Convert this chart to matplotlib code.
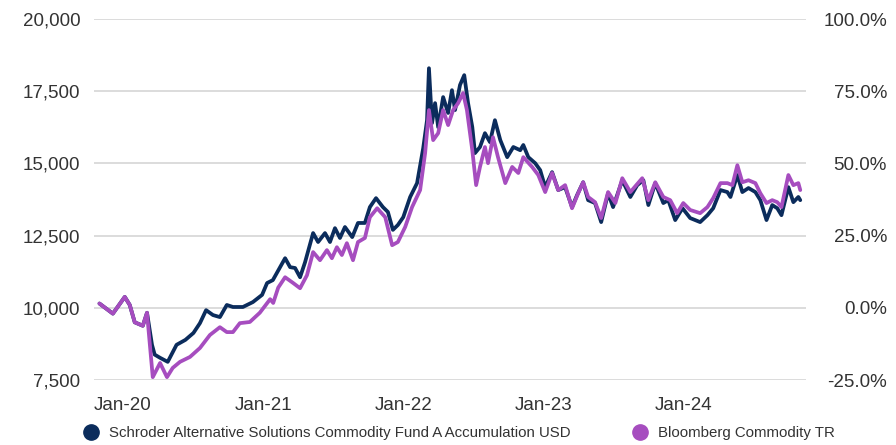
import pandas as pd
import matplotlib
matplotlib.use("Agg")
import matplotlib.pyplot as plt
import matplotlib.dates as mdates
from matplotlib.lines import Line2D
from matplotlib.ticker import FuncFormatter

# growth of 10,000
fund_name = "Schroder Alternative Solutions Commodity Fund A Accumulation USD"
bench_name = "Bloomberg Commodity TR"

fund_dates = [
    "2019-11-01", "2019-12-06", "2020-01-06", "2020-01-19", "2020-02-01", "2020-02-22",
    "2020-03-04", "2020-03-17", "2020-03-24", "2020-04-07", "2020-04-27", "2020-05-20",
    "2020-06-12", "2020-07-03", "2020-07-20", "2020-08-05", "2020-08-23", "2020-09-10",
    "2020-09-28", "2020-10-14", "2020-11-09", "2020-12-05", "2020-12-29", "2021-01-11",
    "2021-01-26", "2021-02-27", "2021-03-12", "2021-03-25", "2021-04-07", "2021-04-20",
    "2021-05-11", "2021-05-24", "2021-06-11", "2021-06-24", "2021-07-07", "2021-07-20",
    "2021-08-02", "2021-08-21", "2021-09-05", "2021-09-23", "2021-10-06", "2021-10-22",
    "2021-11-09", "2021-11-22", "2021-12-05", "2021-12-18", "2022-01-01", "2022-01-19",
    "2022-02-06", "2022-02-22", "2022-03-04", "2022-03-09", "2022-03-17", "2022-03-25",
    "2022-04-02", "2022-04-15", "2022-04-28", "2022-05-08", "2022-05-16", "2022-05-29",
    "2022-06-09", "2022-06-19", "2022-06-30", "2022-07-07", "2022-07-20", "2022-08-02",
    "2022-08-15", "2022-08-28", "2022-09-11", "2022-09-29", "2022-10-15", "2022-11-02",
    "2022-11-10", "2022-11-23", "2022-12-11", "2022-12-24", "2023-01-06", "2023-01-24",
    "2023-02-09", "2023-02-27", "2023-03-17", "2023-03-30", "2023-04-15", "2023-04-28",
    "2023-05-16", "2023-06-01", "2023-06-19", "2023-07-02", "2023-07-26", "2023-08-16",
    "2023-09-03", "2023-09-19", "2023-10-02", "2023-10-20", "2023-11-10", "2023-11-23",
    "2023-12-11", "2023-12-30", "2024-01-19", "2024-02-14", "2024-03-04", "2024-03-19",
    "2024-04-07", "2024-04-25", "2024-05-03", "2024-05-21", "2024-06-03", "2024-06-19",
    "2024-07-07", "2024-07-20", "2024-08-05", "2024-08-20", "2024-09-02", "2024-09-13",
    "2024-10-01", "2024-10-14", "2024-10-27", "2024-11-01",
]
fund_values = [
    10150, 9800, 10380, 10100, 9500, 9380,
    9830, 8720, 8380, 8270, 8130, 8720,
    8890, 9130, 9470, 9920, 9750, 9680,
    10100, 10030, 10030, 10200, 10450, 10860,
    10960, 11720, 11410, 11380, 11060, 11580,
    12590, 12280, 12590, 12280, 12760, 12420,
    12800, 12450, 12940, 12940, 13490, 13800,
    13490, 13320, 12700, 12870, 13140, 13840,
    14320, 15530, 16500, 18300, 16400, 17090,
    16260, 17300, 16750, 17540, 16850, 17720,
    18060, 17090, 16260, 15360, 15570, 16050,
    15740, 16500, 15810, 15220, 15570, 15460,
    15640, 15220, 15010, 14770, 14180, 14700,
    14080, 14180, 13490, 13900, 14350, 13730,
    13630, 12970, 13970, 13490, 14420, 13840,
    14250, 14420, 13560, 14320, 13630, 13730,
    13040, 13450, 13110, 12970, 13210, 13450,
    14080, 14010, 13840, 14600, 14010, 14150,
    14010, 13730, 13040, 13560, 13450, 13210,
    14180, 13660, 13840, 13730,
]

bench_dates = [
    "2019-11-01", "2019-12-06", "2020-01-06", "2020-01-19", "2020-02-01", "2020-02-22",
    "2020-03-04", "2020-03-19", "2020-04-07", "2020-04-25", "2020-05-10", "2020-05-29",
    "2020-06-24", "2020-07-20", "2020-08-15", "2020-09-10", "2020-09-28", "2020-10-14",
    "2020-11-01", "2020-11-27", "2020-12-23", "2021-01-19", "2021-01-27", "2021-02-09",
    "2021-02-27", "2021-03-20", "2021-04-07", "2021-04-25", "2021-05-11", "2021-05-29",
    "2021-06-16", "2021-06-29", "2021-07-12", "2021-07-25", "2021-08-07", "2021-08-23",
    "2021-09-05", "2021-09-23", "2021-10-06", "2021-10-25", "2021-11-15", "2021-12-03",
    "2021-12-18", "2022-01-06", "2022-01-24", "2022-02-14", "2022-02-27", "2022-03-09",
    "2022-03-20", "2022-04-02", "2022-04-15", "2022-04-28", "2022-05-11", "2022-05-24",
    "2022-06-06", "2022-06-16", "2022-06-30", "2022-07-10", "2022-07-20", "2022-08-02",
    "2022-08-10", "2022-08-23", "2022-09-05", "2022-09-24", "2022-10-12", "2022-10-28",
    "2022-11-10", "2022-12-03", "2022-12-19", "2023-01-06", "2023-01-24", "2023-02-09",
    "2023-02-27", "2023-03-17", "2023-04-02", "2023-04-15", "2023-04-28", "2023-05-16",
    "2023-06-01", "2023-06-19", "2023-07-08", "2023-07-26", "2023-08-16", "2023-09-16",
    "2023-10-02", "2023-10-20", "2023-11-10", "2023-11-28", "2023-12-16", "2024-01-01",
    "2024-01-19", "2024-02-14", "2024-03-04", "2024-03-19", "2024-04-07", "2024-04-25",
    "2024-05-08", "2024-05-21", "2024-06-03", "2024-06-19", "2024-07-07", "2024-07-20",
    "2024-08-05", "2024-08-20", "2024-09-02", "2024-09-13", "2024-10-01", "2024-10-14",
    "2024-10-27", "2024-11-01",
]
bench_values = [
    10150, 9800, 10380, 10100, 9500, 9380,
    9830, 7600, 8090, 7600, 7920, 8130,
    8300, 8610, 9060, 9330, 9160, 9160,
    9470, 9510, 9830, 10300, 10170, 10700,
    11060, 10860, 10680, 11130, 11930, 11650,
    12000, 11720, 12100, 11830, 12240, 11650,
    12280, 12420, 13140, 13450, 13140, 12170,
    12280, 12800, 13490, 14080, 15360, 16850,
    15810, 16050, 16850, 16330, 16850, 17090,
    17440, 16850, 15460, 14250, 14880, 15570,
    15010, 15910, 15220, 14320, 14880, 14670,
    15220, 14880, 14600, 14010, 14670, 14080,
    14250, 13450, 13970, 14350, 13840, 13660,
    13110, 14010, 13630, 14490, 14010, 14490,
    13730, 14350, 13840, 13730, 13280, 13630,
    13390, 13280, 13490, 13800, 14320, 14320,
    14250, 14940, 14350, 14420, 14320, 13970,
    13630, 13730, 13660, 13490, 14600, 14250,
    14320, 14080,
]

left_ticks = [7500, 10000, 12500, 15000, 17500, 20000]
right_ticks = [-25, 0, 25, 50, 75, 100]
year_ticks = ["2020-01-01", "2021-01-01", "2022-01-01", "2023-01-01", "2024-01-01"]

navy = "#0b2c5c"
purple = "#a64dbf"
text_col = "#333333"
grid_col = "#d9d9d9"

plt.rcParams["font.family"] = ["Liberation Sans", "DejaVu Sans"]

fig = plt.figure(figsize=(8.96, 4.45), dpi=100)
ax = fig.add_axes([0.105, 0.146, 0.795, 0.811])

ax.plot(pd.to_datetime(fund_dates), fund_values, color=navy, lw=2.7,
        solid_joinstyle="round", solid_capstyle="round")
ax.plot(pd.to_datetime(bench_dates), bench_values, color=purple, lw=2.7,
        solid_joinstyle="round", solid_capstyle="round")

ax.set_ylim(7500, 20000)
ax.set_yticks(left_ticks)
ax.yaxis.set_major_formatter(FuncFormatter(lambda v, p: f"{v:,.0f}"))
ax.set_xlim(pd.Timestamp("2019-10-18"), pd.Timestamp("2024-11-17"))
ax.set_xticks(pd.to_datetime(year_ticks))
ax.xaxis.set_major_formatter(mdates.DateFormatter("%b-%y"))

ax.grid(axis="y", color=grid_col, lw=1.3)
ax.set_axisbelow(True)
for s in ax.spines.values():
    s.set_visible(False)
ax.tick_params(axis="both", length=0, labelsize=13.5, labelcolor=text_col)
ax.tick_params(axis="y", pad=10)
ax.tick_params(axis="x", pad=12)

# right axis shows cumulative return in %
ax2 = ax.twinx()
ax2.set_ylim(-25, 100)
ax2.set_yticks(right_ticks)
ax2.yaxis.set_major_formatter(FuncFormatter(lambda v, p: f"{v:.1f}%"))
for s in ax2.spines.values():
    s.set_visible(False)
ax2.tick_params(axis="y", length=0, labelsize=13.5, labelcolor=text_col, pad=58)
for lbl in ax2.get_yticklabels():
    lbl.set_horizontalalignment("right")

handles = [
    Line2D([], [], ls="none", marker="o", ms=11, color=navy),
    Line2D([], [], ls="none", marker="o", ms=11, color=purple),
]
fig.legend(handles, [fund_name, bench_name], loc="center", bbox_to_anchor=(0.508, 0.027),
           ncol=2, frameon=False, fontsize=10.8, handletextpad=0.2, columnspacing=3.6,
           labelcolor=text_col)

fig.savefig("out.png", dpi=100)
